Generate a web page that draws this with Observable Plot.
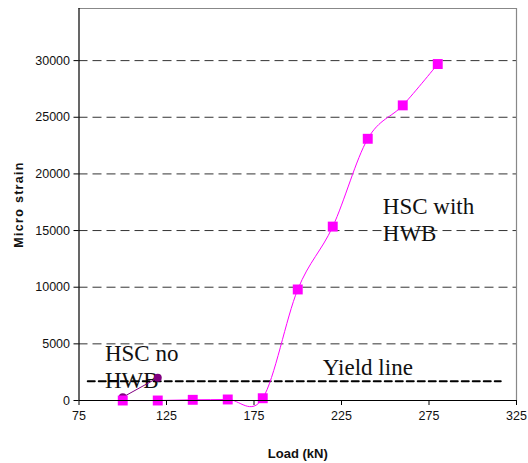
<!DOCTYPE html>
<html>
<head>
<meta charset="utf-8">
<script src="https://cdn.jsdelivr.net/npm/d3@7"></script>
<script src="https://cdn.jsdelivr.net/npm/@observablehq/plot@0.6"></script>
<style>
  html, body { margin: 0; padding: 0; background: #fff; }
  #chart svg { display: block; }
</style>
</head>
<body>
<div id="chart"></div>
<script>
// ---- data ----
const loadWithHWB   = [100, 120, 140, 160, 180, 200, 220, 240, 260, 280];
const strainWithHWB = [0, 0, 60, 90, 200, 9800, 15350, 23100, 26050, 29700];
const loadNoHWB     = [100, 120];
const strainNoHWB   = [290, 2000];
const yieldLoad     = [80, 316];
const yieldStrain   = 1700;
const xTicks = [75, 125, 175, 225, 275, 325];
const yTicks = [0, 5000, 10000, 15000, 20000, 25000, 30000];
const gridValues = [5000, 10000, 15000, 20000, 25000, 30000];
const labels = [
  {x: 89.8, y: 1066, text: "HSC no\nHWB"},
  {x: 214.3, y: 2220, text: "Yield line"},
  {x: 248.6, y: 14060, text: "HSC with\nHWB"}
];

const withHWB = loadWithHWB.map((x, i) => ({x, y: strainWithHWB[i]}));
const noHWB = loadNoHWB.map((x, i) => ({x, y: strainNoHWB[i]}));
const yieldData = yieldLoad.map(x => ({x, y: yieldStrain}));

const chart = Plot.plot({
  width: 528,
  height: 463,
  marginLeft: 78.5,
  marginRight: 12,
  marginTop: 8,
  marginBottom: 63,
  style: {fontFamily: "Liberation Sans, Arial, sans-serif", fontSize: "12.5px", color: "#111", background: "#fff"},
  x: {domain: [75, 325]},
  y: {domain: [0, 34600]},
  marks: [
    Plot.ruleY(gridValues, {stroke: "#333", strokeWidth: 1, strokeDasharray: "9,5"}),
    Plot.ruleY([34600], {stroke: "#888", strokeWidth: 1.2}),
    Plot.ruleX([325], {stroke: "#888", strokeWidth: 1.2}),
    Plot.text(labels, {x: "x", y: "y", text: "text", textAnchor: "start", lineAnchor: "bottom",
      lineHeight: 1.19, fontFamily: "Liberation Serif, Times New Roman, serif", fontSize: 23, fill: "#111"}),
    Plot.line(yieldData, {x: "x", y: "y", stroke: "#000", strokeWidth: 2, strokeDasharray: "7,4"}),
    Plot.line(noHWB, {x: "x", y: "y", stroke: "#800080", strokeWidth: 1}),
    Plot.line(withHWB, {x: "x", y: "y", stroke: "#ff00ff", strokeWidth: 1, curve: "cardinal"}),
    Plot.dot(noHWB, {x: "x", y: "y", r: 4, fill: "#800080", stroke: "none"}),
    Plot.dot(withHWB, {x: "x", y: "y", symbol: "square", r: 5.6, fill: "#ff00ff", stroke: "none"}),
    Plot.ruleX([75], {stroke: "#000", strokeWidth: 1.2}),
    Plot.ruleY([0], {stroke: "#000", strokeWidth: 1.2}),
    Plot.axisX(xTicks, {tickSize: 5, tickPadding: 6, label: null, stroke: "#000", fill: "#111"}),
    Plot.axisY(yTicks, {tickSize: 5, tickPadding: 4, label: null, stroke: "#000", fill: "#111", tickFormat: d => String(d)}),
    Plot.text(["Load (kN)"], {frameAnchor: "bottom", dy: 57, lineAnchor: "bottom", fontWeight: "bold", fontSize: 13, fill: "#111"}),
    Plot.text(["Micro strain"], {frameAnchor: "left", dx: -60, rotate: -90, textAnchor: "middle", lineAnchor: "middle",
      fontWeight: "bold", fontSize: 12.5, fill: "#111", className: "ylab"})
  ]
});
document.getElementById("chart").appendChild(chart);
d3.select(chart).selectAll(".ylab text").style("letter-spacing", "1.3px");
</script>
</body>
</html>
